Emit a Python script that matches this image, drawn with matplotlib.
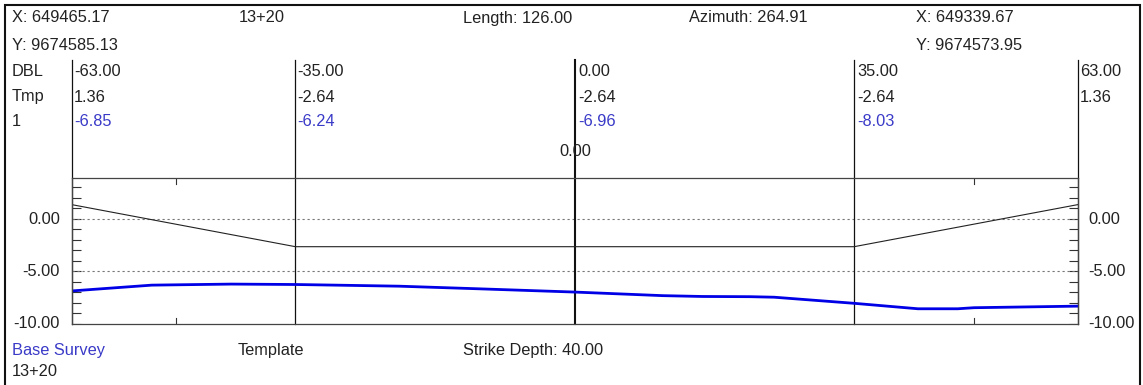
import matplotlib
matplotlib.use("Agg")
import matplotlib.pyplot as plt
from matplotlib.patches import Rectangle

plt.rcParams['font.family'] = ['Liberation Sans', 'DejaVu Sans']

W, H = 1143, 385

# cross section data
offsets = [-63, -35, 0, 35, 63]
dbl_labels = ['-63.00', '-35.00', '0.00', '35.00', '63.00']
tmp_labels = ['1.36', '-2.64', '-2.64', '-2.64', '1.36']
srv_labels = ['-6.85', '-6.24', '-6.96', '-8.03', '']

template_x = [-63, -35, 35, 63]
template_y = [1.36, -2.64, -2.64, 1.36]

survey_x = [-63, -53, -43, -35, -30, -22, -12, 0, 11, 16, 22, 25, 35, 43, 48, 50, 63]
survey_y = [-6.85, -6.3, -6.2, -6.24, -6.3, -6.4, -6.65, -6.96, -7.3, -7.38, -7.4, -7.45,
            -8.03, -8.55, -8.55, -8.45, -8.3]

ytick_vals = [0, -5, -10]
ytick_labels = ['0.00', '-5.00', '-10.00']

TXT = '#222222'
BLUE_TXT = '#3a3ac8'
FS = 11.8


def fx(px):
    return px / W


def fy(py):
    return 1 - py / H


fig = plt.figure(figsize=(W / 100, H / 100), dpi=100)

# outer frame
fig.patches.append(Rectangle((fx(5), fy(390)), fx(1140) - fx(5), fy(5) - fy(390),
                             transform=fig.transFigure, fill=False, edgecolor='#111111',
                             linewidth=1.5))

left, right, top, bottom = 72, 1077.5, 178, 324
ax = fig.add_axes([fx(left), fy(bottom), fx(right) - fx(left), fy(top) - fy(bottom)])
ax.set_xlim(-63, 63)
ax.set_ylim(-10, 3.9)
for s in ax.spines.values():
    s.set_color('#444444')
    s.set_linewidth(0.9)
ax.set_xticks([])
ax.set_yticks([])

# inward minor ticks on both sides
for v in range(-10, 4):
    ax.plot([-63, -61.9], [v, v], color='#333333', lw=0.8, solid_capstyle='butt')
    ax.plot([61.9, 63], [v, v], color='#333333', lw=0.8, solid_capstyle='butt')
for xv in [-50, 50]:
    ax.plot([xv, xv], [-10, -9.45], color='#333333', lw=0.8)
    ax.plot([xv, xv], [3.9, 3.35], color='#333333', lw=0.8)

# dotted reference lines
for v in [0, -5]:
    ax.plot([-63, 63], [v, v], color='#777777', lw=0.8, linestyle=(0, (2, 2.5)))

# vertical station lines extending above the box
y_top_line = (219 - 60) / 10.5
for xo in offsets:
    lw = 1.5 if xo == 0 else 0.9
    ax.plot([xo, xo], [-10, y_top_line], color='#111111', lw=lw, clip_on=False)

ax.plot(template_x, template_y, color='#222222', lw=0.8)
ax.plot(survey_x, survey_y, color='#0000e6', lw=2.0, solid_joinstyle='round')

# header texts
def t(px, py, s, color=TXT, ha='left'):
    fig.text(fx(px), fy(py), s, color=color, fontsize=FS, ha=ha, va='center')


t(12, 18, 'X: 649465.17')
t(239, 18, '13+20')
t(463, 18, 'Length: 126.00')
t(689, 18, 'Azimuth: 264.91')
t(916, 18, 'X: 649339.67')
t(12, 46, 'Y: 9674585.13')
t(916, 46, 'Y: 9674573.95')

t(12, 72, 'DBL')
t(12, 97, 'Tmp')
t(12, 121, '1')

col_px = [74, 297, 578, 857, 1080]
for cx, a, b, c in zip(col_px, dbl_labels, tmp_labels, srv_labels):
    t(cx, 72, a)
    t(cx, 97, b)
    if c:
        t(cx, 121, c, color=BLUE_TXT)

t(575, 151, '0.00', ha='center')

for v, lab in zip(ytick_vals, ytick_labels):
    py = 219 - v * 10.5
    t(60, py, lab, ha='right')
    t(1088, py, lab)

t(12, 350, 'Base Survey', color=BLUE_TXT)
t(238, 350, 'Template')
t(463, 350, 'Strike Depth: 40.00')
t(12, 372, '13+20')

fig.savefig('out.png', dpi=100)
